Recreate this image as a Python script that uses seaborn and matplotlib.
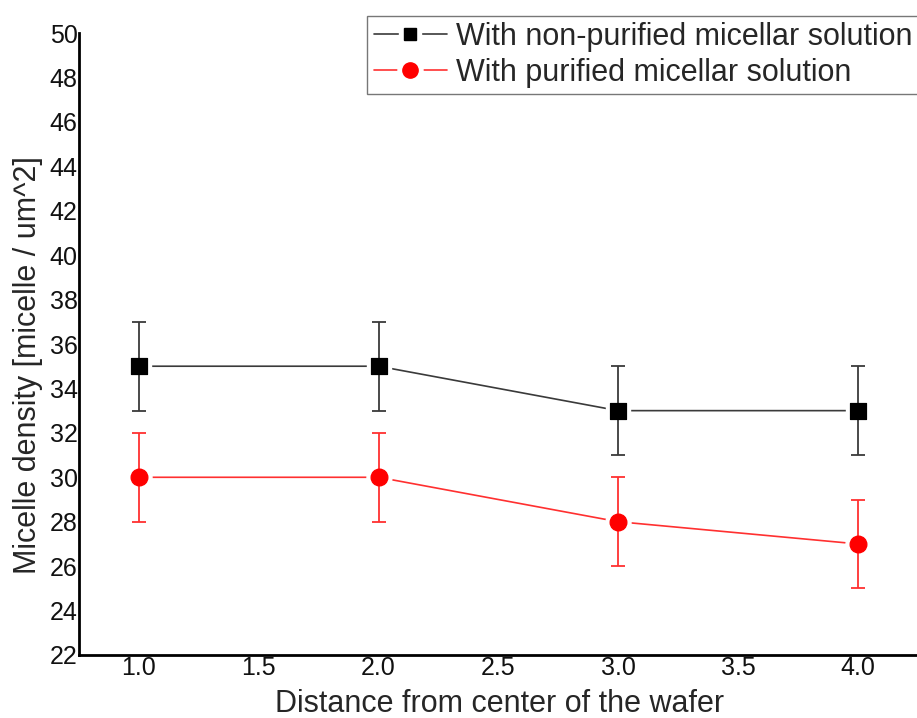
import matplotlib
matplotlib.use("Agg")
import matplotlib.pyplot as plt
import seaborn as sns
import pandas as pd
from matplotlib.lines import Line2D
from matplotlib.legend_handler import HandlerTuple

# Measured micelle densities at each radial position
distance = [1.0, 2.0, 3.0, 4.0]
non_purified = [35, 35, 33, 33]
non_purified_err = [2, 2, 2, 2]
purified = [30, 30, 28, 27]
purified_err = [2, 2, 2, 2]
labels = ["With non-purified micellar solution", "With purified micellar solution"]

df = pd.DataFrame({
    "distance": distance * 2,
    "density": non_purified + purified,
    "err": non_purified_err + purified_err,
    "series": [labels[0]] * 4 + [labels[1]] * 4,
})

sns.set_style("white")
plt.rcParams["font.family"] = ["Liberation Sans", "DejaVu Sans"]

fig = plt.figure(figsize=(9.17, 7.18), dpi=100)
ax = fig.add_axes([79 / 917, 1 - 655 / 718, (920 - 79) / 917, (655 - 33) / 718])

styles = {
    labels[0]: dict(line="#3a3a3a", face="black", marker="s", ms=11, lms=9),
    labels[1]: dict(line="#ff3030", face="#ff0000", marker="o", ms=12, lms=11),
}

handles = []
for name, sub in df.groupby("series", sort=False):
    st = styles[name]
    # connecting line
    sns.lineplot(data=sub, x="distance", y="density", ax=ax, color=st["line"],
                 lw=1.2, legend=False, zorder=2)
    # white halo leaves a small gap between line and marker
    ax.plot(sub["distance"], sub["density"], ls="none", marker=st["marker"],
            ms=st["ms"] + 6, mfc="white", mec="white", zorder=3)
    ax.errorbar(sub["distance"], sub["density"], yerr=sub["err"], fmt="none",
                ecolor=st["line"], elinewidth=1.3, capsize=5, capthick=1.3, zorder=4)
    sns.scatterplot(data=sub, x="distance", y="density", ax=ax, marker=st["marker"],
                    s=st["ms"] ** 2, color=st["face"], edgecolor=st["face"],
                    legend=False, zorder=5)
    # legend entry: line with a gap around the symbol
    handles.append((
        Line2D([], [], color=st["line"], lw=1.2),
        Line2D([], [], ls="none", marker=st["marker"], ms=st["lms"] + 7,
               mfc="white", mec="white"),
        Line2D([], [], ls="none", marker=st["marker"], ms=st["lms"],
               mfc=st["face"], mec=st["face"]),
    ))

leg = ax.legend(handles, labels, loc="upper left", bbox_to_anchor=(0.343, 1.028),
                handler_map={tuple: HandlerTuple(ndivide=1, pad=0)},
                frameon=True, fancybox=False, fontsize=22, handlelength=2.4,
                handletextpad=0.3, borderpad=0.2, labelspacing=0.2,
                borderaxespad=0)
leg.get_frame().set_edgecolor("#555555")
leg.get_frame().set_linewidth(1.0)

ax.set_xlim(0.75, 4.26)
ax.set_ylim(22, 50)
ax.set_xticks([1.0, 1.5, 2.0, 2.5, 3.0, 3.5, 4.0])
ax.set_xticklabels(["1.0", "1.5", "2.0", "2.5", "3.0", "3.5", "4.0"])
ax.set_yticks(range(22, 51, 2))
ax.tick_params(axis="both", length=0, labelsize=18, colors="#111111")
ax.tick_params(axis="y", pad=1)
ax.tick_params(axis="x", pad=1)

for side in ["top", "right"]:
    ax.spines[side].set_visible(False)
for side in ["left", "bottom"]:
    ax.spines[side].set_color("black")
    ax.spines[side].set_linewidth(2)

ax.set_xlabel("Distance from center of the wafer", fontsize=22, labelpad=6)
ax.set_ylabel("Micelle density [micelle / um^2]", fontsize=22)
ax.yaxis.set_label_coords(-0.0433, 0.466)

fig.savefig("out.png", dpi=100)
